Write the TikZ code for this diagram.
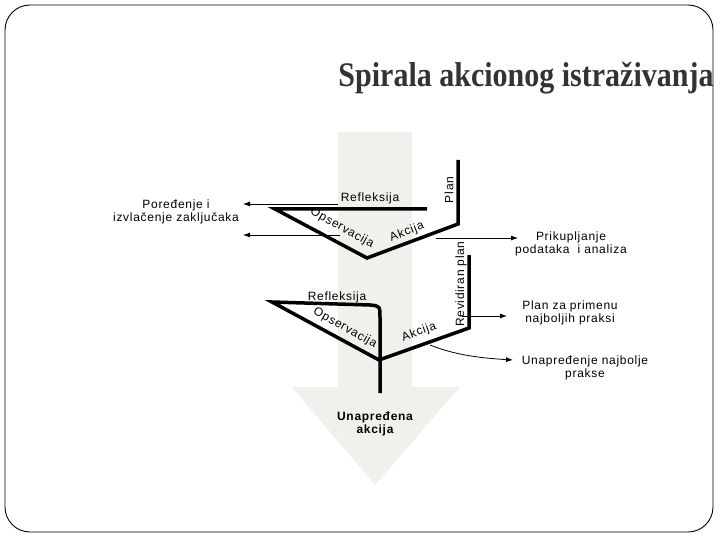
\documentclass[tikz,border=0pt]{standalone}
\usepackage{fontspec}
\setmainfont{Liberation Sans}
\newfontfamily\titlefont{Liberation Serif}
\newfontfamily\lblfont[LetterSpace=6]{Liberation Sans}
\usetikzlibrary{arrows.meta}
\definecolor{arrowgray}{RGB}{240,240,236}
\definecolor{titlegray}{RGB}{51,51,51}

\tikzset{
  cycle line/.style={line width=3.5pt},
  link/.style={-{Latex[length=7pt,width=5pt]}, line width=0.8pt},
  lbl/.style={font=\lblfont\fontsize{12}{13}\selectfont, inner sep=0pt},
  note/.style={font=\lblfont\fontsize{12}{13}\selectfont, align=center, inner sep=0pt},
}

\begin{document}
\begin{tikzpicture}[x=1pt,y=-1pt]
  \useasboundingbox (0,0) rectangle (720,540);
  \draw[line width=0.9pt, rounded corners=25pt] (5,5) rectangle (713,532);
  % big arrow
  \fill[arrowgray] (338,132) -- (412,132) -- (412,387) -- (460,387) -- (375,485)
    -- (292,387) -- (338,387) -- cycle;
  \node[font=\titlefont\bfseries\fontsize{30}{34}\selectfont, text=titlegray,
    anchor=base, inner sep=0pt] (title) at (526,87)
    {\scalebox{1}[1.15]{Spirala akcionog istraživanja}};

  % first loop
  \coordinate (r1) at (427,209);
  \coordinate (o1) at (275,209);
  \coordinate (v1) at (367,258);
  \coordinate (a1) at (458,224);
  \coordinate (p1) at (458,160);
  \draw[cycle line] (r1) -- (o1) -- (v1) -- (a1) -- (p1);
  \node[lbl] (refl1) at (370,198) {Refleksija};
  \node[lbl, rotate=-29] (ops1) at (342,228) {Opservacija};
  \node[lbl, rotate=21] (akc1) at (407,232) {Akcija};
  \node[lbl, rotate=90] (plan) at (449,190) {Plan};

  % second loop
  \coordinate (p2) at (469,255);
  \coordinate (a2) at (469,328);
  \coordinate (v2) at (379,360);
  \coordinate (o2) at (272,302);
  \coordinate (r2) at (370,305);
  \coordinate (e2) at (380,393);
  \draw[cycle line] (p2) -- (a2) -- (v2) -- (o2) -- (r2)
    .. controls (380,306) .. (380,318) -- (e2);
  \node[lbl, rotate=90] (rev) at (461,284) {Revidiran plan};
  \node[lbl] (refl2) at (337,297) {Refleksija};
  \node[lbl, rotate=-29] (ops2) at (345,328) {Opservacija};
  \node[lbl, rotate=20] (akc2) at (419,332) {Akcija};

  % side notes
  \node[note] (compare) at (176,212) {Poređenje i\\izvlačenje zaključaka};
  \node[note] (collect) at (571,244) {Prikupljanje\\podataka \ i analiza};
  \node[note] (best) at (570,313) {Plan za primenu\\najboljih praksi};
  \node[note] (improve) at (585,368) {Unapređenje najbolje\\prakse};
  \node[font=\lblfont\bfseries\fontsize{12}{13}\selectfont, align=center,
    inner sep=0pt] (result) at (375,424) {Unapređena\\akcija};

  % connectors
  \coordinate (s1) at (338,204);
  \coordinate (t1) at (243,204);
  \coordinate (s2) at (340,235);
  \coordinate (t2) at (243,235);
  \coordinate (s3) at (436,238);
  \coordinate (t3) at (518,238);
  \coordinate (s4) at (462,316);
  \coordinate (t4) at (507,316);
  \coordinate (s5) at (430,345);
  \coordinate (t5) at (513,360);
  \draw[link] (s1) -- (t1);
  \draw[link] (s2) -- (t2);
  \draw[link] (s3) -- (t3);
  \draw[link] (s4) -- (t4);
  \draw[link] (s5) .. controls (455,355) and (480,358) .. (t5);
\end{tikzpicture}
\end{document}
